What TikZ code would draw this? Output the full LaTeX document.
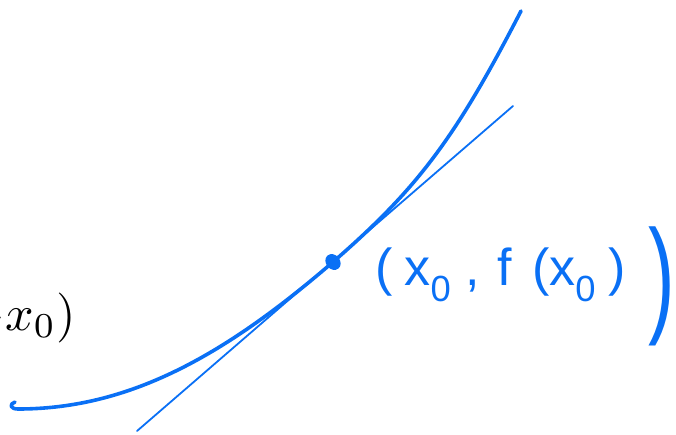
\documentclass[tikz,border=0pt]{standalone}
\usepackage{fontspec}
\usetikzlibrary{shapes.geometric}
\newfontfamily\handfont{Liberation Sans}
\definecolor{pen}{RGB}{10,112,245}
\begin{document}
\begin{tikzpicture}[x=1pt,y=-1pt,
  curvestyle/.style={draw=pen,line width=3.6pt,line cap=round,line join=round},
  tangentstyle/.style={draw=pen,line width=1.8pt,line cap=round},
  dotstyle/.style={fill=pen,draw=none,ellipse,inner sep=0pt,minimum width=17pt,minimum height=14pt},
  handlabel/.style={text=pen,inner sep=0pt}]
\useasboundingbox (0,0) rectangle (676,434);
\clip (0,0) rectangle (676,434);
% clipped formula fragment
\node[anchor=base east,inner sep=0pt] (formula) at (76,330) {\scalebox{5}{$-x_0)$}};
% curve
\coordinate (c0) at (15,402);
\coordinate (c1) at (18,409);
\coordinate (c2) at (333,262);
\coordinate (c3) at (521,11);
\draw[curvestyle] (c0) .. controls (9,404) and (10,409) .. (c1)
  .. controls (128,409) and (223,357) .. (c2)
  .. controls (417,189) and (455,139) .. (c3);
% tangent line
\coordinate (tA) at (137,431);
\coordinate (tB) at (513,106);
\draw[tangentstyle] (tA) -- (tB);
% point
\node[dotstyle,rotate=-50] (pt) at (333,262) {};
% handwritten label
\node[handlabel,anchor=base west,font=\handfont\fontsize{52}{56}\selectfont] (lab) at (375,285) {(\hspace{12pt}x\textsubscript{0}\hspace{14pt},\hspace{18pt}f\hspace{20pt}(x\textsubscript{0}\hspace{12pt})};
\node[handlabel,anchor=center,font=\handfont\fontsize{80}{90}\selectfont] (paren) at (662,286) {\scalebox{1}[1.6]{)}};
\end{tikzpicture}
\end{document}
